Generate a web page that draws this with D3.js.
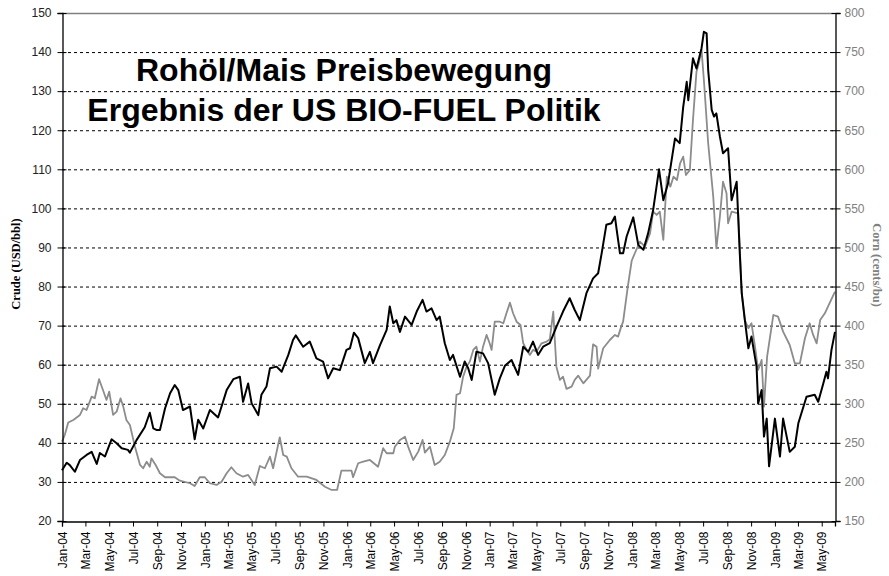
<!DOCTYPE html>
<html><head><meta charset="utf-8">
<script src="https://cdn.jsdelivr.net/npm/d3@7"></script>
<style>body{margin:0;background:#fff}svg{display:block}</style>
</head><body>
<svg id="c" width="889" height="576"></svg>
<script>
const crudeDates = ["2004-01-01","2004-01-13","2004-01-21","2004-02-03","2004-02-16","2004-03-04","2004-03-17","2004-03-30","2004-04-07","2004-04-20","2004-05-07","2004-05-20","2004-06-02","2004-06-18","2004-06-23","2004-07-10","2004-07-31","2004-08-13","2004-08-22","2004-08-30","2004-09-08","2004-09-21","2004-10-04","2004-10-16","2004-10-25","2004-11-06","2004-11-24","2004-12-06","2004-12-15","2004-12-28",
"2005-01-14","2005-02-04","2005-02-26","2005-03-15","2005-04-01","2005-04-09","2005-04-22","2005-05-01","2005-05-18","2005-05-26","2005-06-08","2005-06-17","2005-07-04","2005-07-17","2005-08-03","2005-08-15","2005-08-22","2005-09-10","2005-09-27","2005-10-14","2005-10-31","2005-11-13","2005-11-26","2005-12-13","2005-12-30",
"2006-01-08","2006-01-18","2006-01-29","2006-02-15","2006-02-28","2006-03-08","2006-03-26","2006-04-12","2006-04-20","2006-04-29","2006-05-07","2006-05-16","2006-05-29","2006-06-15","2006-06-28","2006-07-13","2006-07-23","2006-08-05","2006-08-18","2006-08-26","2006-09-08","2006-09-21","2006-09-29","2006-10-17","2006-10-29","2006-11-07","2006-11-16","2006-11-28","2006-12-15","2006-12-28",
"2007-01-14","2007-01-27","2007-02-09","2007-02-26","2007-03-15","2007-03-28","2007-04-10","2007-04-22","2007-05-05","2007-05-18","2007-06-04","2007-06-21","2007-07-08","2007-07-25","2007-08-07","2007-08-20","2007-09-06","2007-09-23","2007-10-06","2007-10-15","2007-10-27","2007-11-09","2007-11-18","2007-11-22","2007-12-01","2007-12-09","2007-12-18",
"2008-01-04","2008-01-17","2008-01-30","2008-02-11","2008-02-24","2008-03-10","2008-03-21","2008-04-02","2008-04-20","2008-05-02","2008-05-11","2008-05-20","2008-05-24","2008-06-05","2008-06-14","2008-06-27","2008-07-03","2008-07-10","2008-07-14","2008-07-23","2008-07-29","2008-08-04","2008-08-13","2008-08-21","2008-09-03","2008-09-12","2008-09-25","2008-10-03","2008-10-08","2008-10-16","2008-10-25","2008-11-02","2008-11-15","2008-11-19","2008-11-28","2008-12-04","2008-12-11","2008-12-17",
"2009-01-01","2009-01-14","2009-01-22","2009-02-08","2009-02-21","2009-03-02","2009-03-23","2009-04-13","2009-04-22","2009-05-05","2009-05-13","2009-05-17","2009-05-26","2009-06-04"];
const crudeValues = [33.0,34.9,34.3,32.6,35.6,36.9,37.7,34.6,37.4,36.5,40.9,39.9,38.6,38.2,37.5,40.7,44.0,47.7,43.7,43.3,43.3,48.8,52.7,54.8,53.5,48.4,49.3,40.9,45.9,43.7,
48.4,46.5,53.5,56.3,56.9,50.5,55.2,50.1,47.1,52.3,54.4,59.1,59.5,58.2,62.5,66.3,67.5,64.6,65.9,61.6,60.8,56.5,59.1,58.6,63.8,
64.2,68.2,66.8,60.4,63.3,60.4,65.0,68.9,74.9,70.6,71.4,68.4,72.3,70.2,73.6,76.6,73.6,74.4,71.4,72.3,65.5,61.2,62.5,56.9,60.8,59.1,56.1,63.3,62.9,60.4,
52.3,56.5,59.7,61.2,57.4,64.6,63.3,65.9,62.5,64.6,65.5,69.7,73.6,77.0,74.0,71.4,78.3,82.1,83.4,88.5,95.8,96.2,97.9,94.9,88.5,88.5,92.8,
97.7,90.6,89.4,93.6,99.6,110.0,102.1,106.4,117.9,116.7,126.0,132.4,127.7,138.4,135.8,141.0,145.2,144.8,135.4,125.2,123.5,124.3,118.4,114.1,115.4,102.1,106.8,88.5,78.3,71.4,64.2,67.2,59.5,50.1,53.5,41.6,46.2,34.0,
46.2,36.5,46.2,37.7,39.0,45.0,51.8,52.3,50.5,55.2,58.2,56.5,63.8,68.4];

const cornDates = ["2004-01-01","2004-01-08","2004-01-17","2004-01-30","2004-02-16","2004-02-24","2004-03-04","2004-03-17","2004-03-25","2004-04-05","2004-04-15","2004-04-24","2004-05-01","2004-05-11","2004-05-20","2004-05-30","2004-06-06","2004-06-14","2004-06-23","2004-07-06","2004-07-19","2004-07-27","2004-08-05","2004-08-13","2004-08-17","2004-08-28","2004-09-08","2004-09-21","2004-10-16","2004-10-29","2004-11-24","2004-12-06","2004-12-19",
"2005-01-01","2005-01-14","2005-01-31","2005-02-13","2005-02-26","2005-03-10","2005-03-23","2005-04-09","2005-04-22","2005-05-09","2005-05-22","2005-06-04","2005-06-17","2005-06-25","2005-07-12","2005-07-21","2005-07-30","2005-08-11","2005-08-28","2005-09-19","2005-10-14","2005-11-05","2005-11-22","2005-12-06","2005-12-17",
"2006-01-12","2006-01-16","2006-01-29","2006-02-11","2006-02-28","2006-03-21","2006-04-03","2006-04-12","2006-04-29","2006-05-03","2006-05-16","2006-05-29","2006-06-06","2006-06-19","2006-07-02","2006-07-13","2006-07-19","2006-08-01","2006-08-13","2006-08-26","2006-09-08","2006-09-21","2006-10-01","2006-10-08","2006-10-17","2006-10-25","2006-11-03","2006-11-11","2006-11-20","2006-11-28","2006-12-07","2006-12-15","2006-12-24",
"2007-01-01","2007-01-06","2007-01-14","2007-01-27","2007-02-05","2007-02-13","2007-02-22","2007-03-02","2007-03-11","2007-03-21","2007-03-28","2007-04-06","2007-04-14","2007-04-22","2007-05-01","2007-05-14","2007-05-27","2007-06-04","2007-06-13","2007-06-17","2007-06-21","2007-06-30","2007-07-08","2007-07-17","2007-07-30","2007-08-07","2007-08-16","2007-08-29","2007-09-15","2007-09-23","2007-10-02","2007-10-06","2007-10-19","2007-11-05","2007-11-18","2007-11-26","2007-12-05","2007-12-09","2007-12-21","2007-12-31",
"2008-01-08","2008-01-21","2008-02-03","2008-02-16","2008-02-24","2008-03-04","2008-03-12","2008-03-21","2008-03-30","2008-04-08","2008-04-16","2008-04-25","2008-05-03","2008-05-11","2008-05-18","2008-05-28","2008-06-05","2008-06-14","2008-06-21","2008-06-27","2008-07-03","2008-07-14","2008-07-27","2008-08-04","2008-08-13","2008-08-21","2008-08-30","2008-09-03","2008-09-12","2008-09-29","2008-10-08","2008-10-16","2008-10-25","2008-11-02","2008-11-11","2008-11-19","2008-11-28","2008-12-04","2008-12-12","2008-12-28",
"2009-01-09","2009-01-22","2009-02-08","2009-02-21","2009-03-06","2009-03-19","2009-03-31","2009-04-09","2009-04-18","2009-04-27","2009-05-09","2009-05-17","2009-06-04"];
const cornValues = [251.5,260,276,279.3,285.7,294.2,292.1,309.1,307,331.4,317.7,304.9,315.5,285.7,289.9,307,296.3,279.3,272.9,245.1,221.7,217.5,225.9,219.5,230.2,221.7,211.1,206,206,201.6,198.3,194.8,206,
206,198.3,196.1,200.3,211.1,218.8,211.1,206.7,208.9,196.1,220.4,217.5,232.3,217.5,257.1,234.5,232.3,217.5,206.7,206.7,202.5,193.9,189.7,189.7,214.4,
214.4,206,223.9,225.9,228.1,219.5,243.1,236.7,236.7,245.1,253.7,257.9,245.1,228.1,238.8,253.7,237.5,245.1,221.7,225.9,234.5,251.5,268.7,311.3,313.4,334.7,347.5,353.9,368.9,373.1,353.9,373.1,388.1,
377.4,368.9,405,405,403,415.8,429.4,415.8,405,400.8,377.4,368.9,362.5,368.9,366.7,377.4,379.5,382.5,417.9,381.6,347.5,330.5,334.7,319,321.9,330.5,336,326.2,336,376,373.1,345,371,381.6,388.1,385.9,400,405,449.8,483,
492.6,507.4,501,518.1,545.8,541.6,545.8,509.6,590.6,577.8,590.6,586.3,607.7,616.2,592.7,599.1,663.1,724.9,737.7,752.7,714.3,633.3,565,498.9,539.4,584.2,569.3,530.9,545.8,543.7,441.4,407.2,396.6,403,373.1,343.3,356.1,296.3,360.3,413.6,
411.5,392.3,375.2,351.8,351.8,383.8,403,388.1,377.4,407.2,415.8,424.3,443.4];

const leftTicks = [20,30,40,50,60,70,80,90,100,110,120,130,140,150];
const rightTicks = [150,200,250,300,350,400,450,500,550,600,650,700,750,800];
const titleLines = ["Rohöl/Mais Preisbewegung","Ergebnis der US BIO-FUEL Politik"];
const leftTitle = "Crude (USD/bbl)";
const rightTitle = "Corn (cents/bu)";

const parse = d3.utcParse("%Y-%m-%d");
const crude = crudeDates.map((d,i)=>({date:parse(d), v:crudeValues[i]}));
const corn = cornDates.map((d,i)=>({date:parse(d), v:cornValues[i]}));

const L=62, R=835, T=13, B=521;
const svg = d3.select("#c");
const x = d3.scaleUtc().domain([parse("2004-01-01"), parse("2009-06-04")]).range([L,R]);
const yL = d3.scaleLinear().domain([20,150]).range([B,T]);
const yR = d3.scaleLinear().domain([150,800]).range([B,T]);

// gridlines
svg.append("g").selectAll("line").data(leftTicks.filter(t=>t>20&&t<150)).join("line")
  .attr("x1",L).attr("x2",R).attr("y1",d=>yL(d)+0.5).attr("y2",d=>yL(d)+0.5)
  .attr("stroke","#000").attr("stroke-width",1).attr("stroke-dasharray","3,3");
// top border
svg.append("line").attr("x1",L).attr("x2",R).attr("y1",T+0.5).attr("y2",T+0.5).attr("stroke","#808080").attr("stroke-width",1.5);

// lines
const lineL = d3.line().x(d=>x(d.date)).y(d=>yL(d.v));
const lineR = d3.line().x(d=>x(d.date)).y(d=>yR(d.v));
svg.append("path").datum(corn).attr("d",lineR).attr("fill","none").attr("stroke","#8c8c8c").attr("stroke-width",1.8).attr("stroke-linejoin","round");
svg.append("path").datum(crude).attr("d",lineL).attr("fill","none").attr("stroke","#000").attr("stroke-width",2).attr("stroke-linejoin","round");

// axes
const axL = svg.append("g").attr("transform",`translate(${L+0.5},0)`)
  .call(d3.axisLeft(yL).tickValues(leftTicks).tickSize(5).tickPadding(6).tickFormat(d3.format("d")));
axL.select(".domain").attr("stroke","#000").attr("stroke-width",1.3);
axL.selectAll(".tick line").attr("x2",-5).attr("x1",4);
axL.selectAll("text").attr("font-family","Liberation Sans, Arial, sans-serif").attr("font-size",12).attr("fill","#222");

const axR = svg.append("g").attr("transform",`translate(${R+0.5},0)`)
  .call(d3.axisRight(yR).tickValues(rightTicks).tickSize(5).tickPadding(4).tickFormat(d3.format("d")));
axR.select(".domain").attr("stroke","#000").attr("stroke-width",1.3);
axR.selectAll(".tick line").attr("x1",-4).attr("x2",5);
axR.selectAll("text").attr("font-family","Liberation Sans, Arial, sans-serif").attr("font-size",12).attr("fill","#808080");

const axB = svg.append("g").attr("transform",`translate(0,${B+0.5})`)
  .call(d3.axisBottom(x).ticks(d3.utcMonth.every(2)).tickSize(5).tickFormat(d3.utcFormat("%b-%y")));
axB.select(".domain").attr("stroke","#000").attr("stroke-width",1.3);
axB.selectAll("text").attr("font-family","Liberation Sans, Arial, sans-serif").attr("font-size",12).attr("fill","#000")
  .attr("transform","rotate(-90)").attr("text-anchor","end").attr("x",-10).attr("y",0).attr("dy","0.35em");

// axis titles
svg.append("text").attr("transform","translate(20,264) rotate(-90)").attr("text-anchor","middle")
  .attr("font-family","Liberation Serif, Times New Roman, serif").attr("font-weight","bold").attr("font-size",12.5)
  .attr("fill","#000").text(leftTitle);
svg.append("text").attr("transform","translate(873,265) rotate(90)").attr("text-anchor","middle")
  .attr("font-family","Liberation Serif, Times New Roman, serif").attr("font-weight","bold").attr("font-size",12.5)
  .attr("fill","#808080").text(rightTitle);

// big title
svg.append("g").selectAll("text").data(titleLines).join("text")
  .attr("x",344).attr("y",(d,i)=>81+i*40).attr("text-anchor","middle")
  .attr("font-family","Liberation Sans, Arial, sans-serif").attr("font-weight","bold").attr("font-size",32)
  .attr("fill","#000").text(d=>d);
</script>
</body></html>
